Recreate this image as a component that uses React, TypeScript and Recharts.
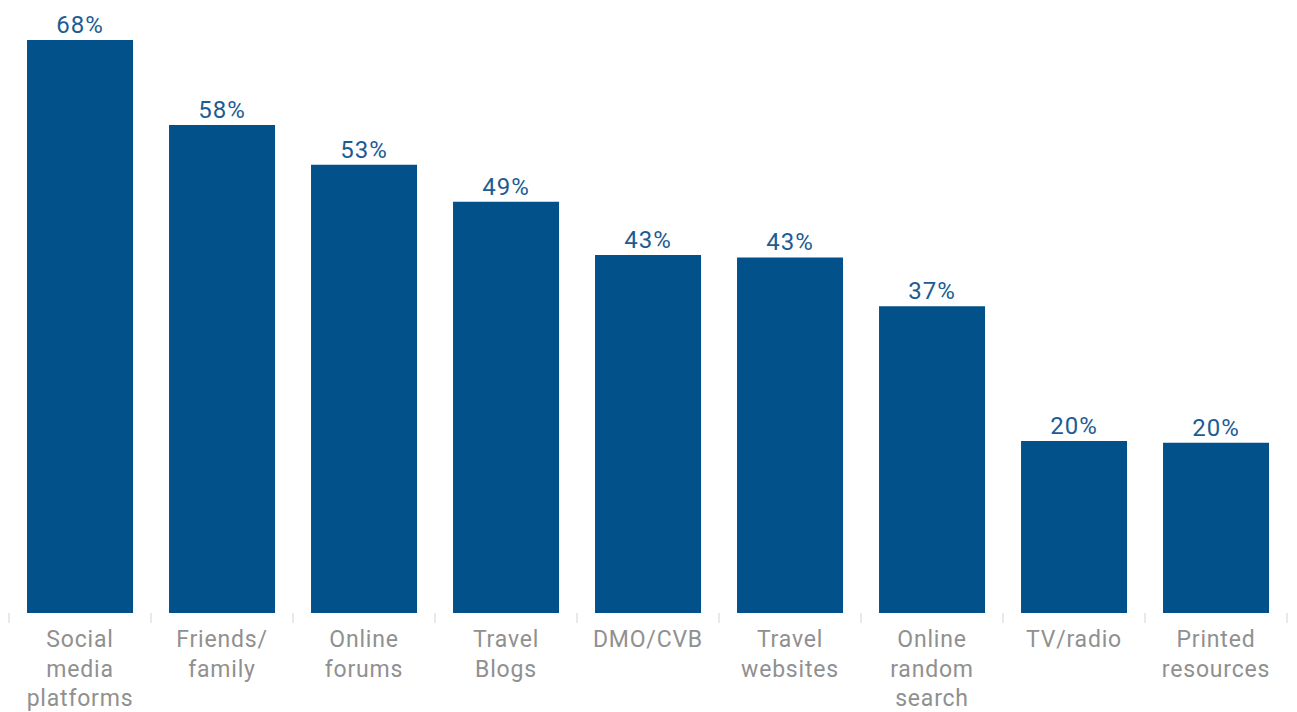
import { BarChart, Bar, XAxis, YAxis, LabelList } from "recharts";

const categories = [
  "Social\nmedia\nplatforms",
  "Friends/\nfamily",
  "Online\nforums",
  "Travel\nBlogs",
  "DMO/CVB",
  "Travel\nwebsites",
  "Online\nrandom\nsearch",
  "TV/radio",
  "Printed\nresources",
];
// bar heights as drawn (labels are the rounded figures)
const shares = [68, 57.9, 53.2, 48.8, 42.5, 42.2, 36.4, 20.4, 20.2];
const labels = ["68%", "58%", "53%", "49%", "43%", "43%", "37%", "20%", "20%"];

const data = categories.map((name, i) => ({ name, share: shares[i], label: labels[i] }));

const BAR = "#02518a";
const LABEL = "#1d5c92";
const AXIS_TEXT = "#909090";
const FONT = "Roboto, 'DejaVu Sans', sans-serif";

function CategoryTick(props: any) {
  const { x, y, payload, index } = props;
  const half = payload?.offset ?? 71;
  const lines = String(payload.value).split("\n");
  return (
    <g>
      <line x1={x - half} x2={x - half} y1={y - 8} y2={y + 2} stroke="#e2e2e2" strokeWidth={1.5} />
      {index === categories.length - 1 && (
        <line x1={x + half} x2={x + half} y1={y - 8} y2={y + 2} stroke="#e2e2e2" strokeWidth={1.5} />
      )}
      <text x={x} y={y} textAnchor="middle" fill={AXIS_TEXT} fontSize={23} fontFamily={FONT} letterSpacing={0.8}>
        {lines.map((l, i) => (
          <tspan key={i} x={x} y={y + 26 + i * 29.5}>
            {l}
          </tspan>
        ))}
      </text>
    </g>
  );
}

export default function App() {
  return (
    <div style={{ position: "absolute", left: 0, top: 0, background: "#fff" }}>
      <BarChart
        width={1297}
        height={712}
        data={data}
        margin={{ top: 40, right: 10, bottom: 0, left: 9 }}
        barCategoryGap="12.7%"
      >
        <XAxis
          dataKey="name"
          interval={0}
          height={99}
          axisLine={false}
          tickLine={false}
          tick={<CategoryTick />}
        />
        <YAxis hide domain={[0, 68]} />
        <Bar dataKey="share" fill={BAR} isAnimationActive={false}>
          <LabelList
            dataKey="label"
            position="top"
            offset={7}
            fill={LABEL}
            fontSize={24}
            fontFamily={FONT}
            letterSpacing={1}
          />
        </Bar>
      </BarChart>
    </div>
  );
}
